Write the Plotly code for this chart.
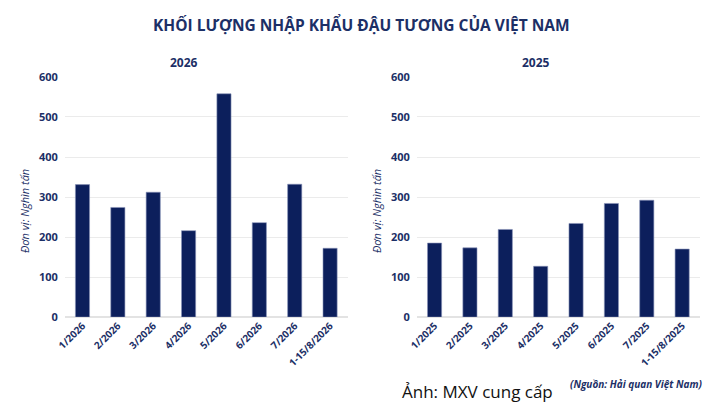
import plotly.graph_objects as go
from plotly.subplots import make_subplots

months_2026 = ["1/2026", "2/2026", "3/2026", "4/2026", "5/2026", "6/2026", "7/2026", "1-15/8/2026"]
volume_2026 = [331, 274, 312, 216, 558, 236, 332, 172]

months_2025 = ["1/2025", "2/2025", "3/2025", "4/2025", "5/2025", "6/2025", "7/2025", "1-15/8/2025"]
volume_2025 = [185, 173, 219, 127, 234, 284, 292, 170]

y_ticks = [0, 100, 200, 300, 400, 500, 600]

NAVY = "#0c1f5c"
TEXT = "#1c2f66"
FONT = "Open Sans"

fig = make_subplots(rows=1, cols=2)
fig.add_trace(go.Bar(x=months_2026, y=volume_2026, marker_color=NAVY,
                     marker_line=dict(color="#8a94b8", width=0.6)), row=1, col=1)
fig.add_trace(go.Bar(x=months_2025, y=volume_2025, marker_color=NAVY,
                     marker_line=dict(color="#8a94b8", width=0.6)), row=1, col=2)

axis_y = dict(range=[0, 600], tickvals=y_ticks, showgrid=True, gridcolor="#ebebeb",
              gridwidth=1, zeroline=True, zerolinecolor="#e3e3e3", showline=False,
              ticks="", ticklabelstandoff=6, automargin=False,
              tickfont=dict(family=FONT, size=11, color=TEXT, weight="bold"),
              domain=[0.217, 0.81])
axis_x = dict(tickangle=-45, showline=False, ticks="", automargin=False,
              tickfont=dict(family=FONT, size=10, color=TEXT, weight="bold"))

fig.update_yaxes(**axis_y)
fig.update_xaxes(**axis_x)
fig.update_layout(
    xaxis=dict(domain=[0.090, 0.483]),
    xaxis2=dict(domain=[0.579, 0.972]),
)

ann = [
    dict(text="KHỐI LƯỢNG NHẬP KHẨU ĐẬU TƯƠNG CỦA VIỆT NAM", x=361, y=25,
         font=dict(size=15.5, color=TEXT, weight="bold")),
    dict(text="2026", x=184, y=62, font=dict(size=12, color=TEXT, weight="bold")),
    dict(text="2025", x=536, y=62, font=dict(size=12, color=TEXT, weight="bold")),
    dict(text="<i>Đơn vị: Nghìn tấn</i>", x=24, y=211, textangle=-90,
         font=dict(size=11, color=TEXT)),
    dict(text="<i>Đơn vị: Nghìn tấn</i>", x=376, y=211, textangle=-90,
         font=dict(size=11, color=TEXT)),
    dict(text="Ảnh: MXV cung cấp", x=477, y=391, font=dict(size=17, color="#111111")),
    dict(text="<i>(Nguồn: Hải quan Việt Nam)</i>", x=636, y=384,
         font=dict(size=10, color=TEXT, weight="bold")),
]
for a in ann:
    fig.add_annotation(xref="paper", yref="paper", x=a["x"] / 720, y=1 - a["y"] / 405,
                       text=a["text"], showarrow=False, xanchor="center", yanchor="middle",
                       textangle=a.get("textangle", 0),
                       font=dict(family=FONT, **a["font"]))

fig.update_layout(
    width=720, height=405, margin=dict(l=0, r=0, t=0, b=0),
    paper_bgcolor="white", plot_bgcolor="white", showlegend=False,
    bargap=0.6, font=dict(family=FONT, color=TEXT),
)

# page body has a default 8px margin, drop it so the figure fills the window
fig.write_html("out.html", config={"displayModeBar": False},
               post_script="document.body.style.margin='0px';")
